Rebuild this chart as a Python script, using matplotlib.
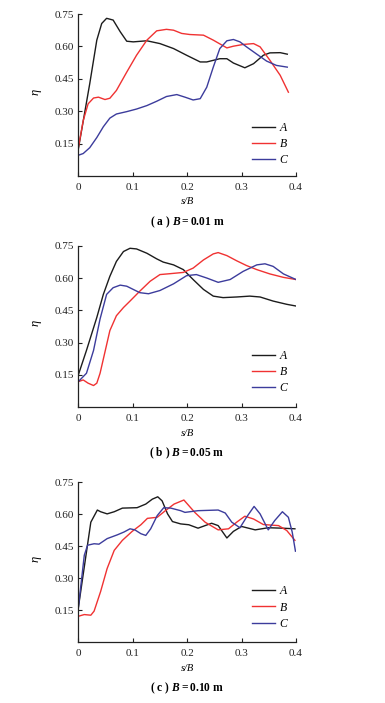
import matplotlib
matplotlib.use("Agg")
import matplotlib.pyplot as plt

plt.rcParams['font.family'] = ['Liberation Serif', 'DejaVu Serif']
plt.rcParams['mathtext.fontset'] = 'custom'
plt.rcParams['mathtext.rm'] = 'Liberation Serif:bold'
plt.rcParams['mathtext.it'] = 'Liberation Serif:italic:bold'
plt.rcParams['mathtext.bf'] = 'Liberation Serif:bold'

# ---------------- data ----------------
# Panel (a) B = 0.01 m
a_A_x = [0.000, 0.021, 0.034, 0.043, 0.052, 0.064, 0.077, 0.089, 0.101, 0.126, 0.150, 0.175, 0.199, 0.224, 0.236, 0.260, 0.273, 0.285, 0.306, 0.322, 0.340, 0.352, 0.371, 0.384]
a_A_y = [0.124, 0.427, 0.629, 0.706, 0.730, 0.722, 0.668, 0.624, 0.621, 0.626, 0.613, 0.590, 0.559, 0.528, 0.528, 0.543, 0.543, 0.523, 0.501, 0.520, 0.559, 0.570, 0.571, 0.564]
a_B_x = [0.000, 0.009, 0.018, 0.028, 0.037, 0.049, 0.058, 0.070, 0.089, 0.107, 0.126, 0.144, 0.162, 0.175, 0.190, 0.205, 0.230, 0.248, 0.273, 0.285, 0.303, 0.322, 0.334, 0.352, 0.371, 0.386]
a_B_y = [0.130, 0.256, 0.334, 0.361, 0.365, 0.354, 0.360, 0.396, 0.481, 0.559, 0.629, 0.672, 0.679, 0.675, 0.660, 0.655, 0.652, 0.629, 0.593, 0.601, 0.609, 0.613, 0.598, 0.536, 0.466, 0.388]
a_C_x = [0.000, 0.009, 0.021, 0.034, 0.046, 0.058, 0.070, 0.089, 0.107, 0.126, 0.144, 0.162, 0.181, 0.196, 0.211, 0.224, 0.236, 0.248, 0.260, 0.273, 0.285, 0.297, 0.309, 0.328, 0.346, 0.364, 0.384]
a_C_y = [0.096, 0.104, 0.131, 0.178, 0.228, 0.268, 0.287, 0.298, 0.310, 0.326, 0.346, 0.368, 0.377, 0.365, 0.352, 0.358, 0.411, 0.504, 0.590, 0.626, 0.632, 0.621, 0.598, 0.564, 0.532, 0.512, 0.504]

# Panel (b) B = 0.05 m
b_A_x = [0.000, 0.015, 0.034, 0.046, 0.058, 0.070, 0.083, 0.095, 0.107, 0.126, 0.144, 0.156, 0.175, 0.193, 0.211, 0.230, 0.248, 0.266, 0.291, 0.315, 0.334, 0.358, 0.383, 0.400]
b_A_y = [0.150, 0.264, 0.417, 0.524, 0.608, 0.677, 0.723, 0.738, 0.735, 0.715, 0.689, 0.674, 0.661, 0.639, 0.593, 0.547, 0.516, 0.509, 0.512, 0.516, 0.512, 0.493, 0.478, 0.470]
b_B_x = [0.000, 0.009, 0.018, 0.028, 0.034, 0.040, 0.049, 0.058, 0.070, 0.083, 0.095, 0.113, 0.132, 0.150, 0.168, 0.193, 0.211, 0.230, 0.248, 0.257, 0.273, 0.291, 0.309, 0.328, 0.352, 0.377, 0.400]
b_B_y = [0.119, 0.127, 0.112, 0.101, 0.112, 0.158, 0.257, 0.356, 0.425, 0.463, 0.493, 0.539, 0.585, 0.616, 0.620, 0.626, 0.646, 0.684, 0.712, 0.718, 0.704, 0.680, 0.658, 0.639, 0.619, 0.603, 0.593]
b_C_x = [0.000, 0.015, 0.028, 0.040, 0.052, 0.064, 0.077, 0.089, 0.101, 0.113, 0.129, 0.150, 0.175, 0.199, 0.217, 0.236, 0.257, 0.279, 0.303, 0.328, 0.343, 0.358, 0.377, 0.400]
b_C_y = [0.119, 0.158, 0.264, 0.410, 0.524, 0.555, 0.567, 0.562, 0.547, 0.532, 0.527, 0.542, 0.573, 0.611, 0.616, 0.600, 0.580, 0.593, 0.631, 0.661, 0.666, 0.654, 0.619, 0.593]

# Panel (c) B = 0.10 m
c_A_x = [0.000, 0.023, 0.035, 0.041, 0.053, 0.066, 0.081, 0.108, 0.124, 0.136, 0.146, 0.154, 0.164, 0.173, 0.188, 0.203, 0.220, 0.245, 0.257, 0.273, 0.285, 0.300, 0.325, 0.349, 0.374, 0.398]
c_A_y = [0.161, 0.563, 0.620, 0.612, 0.602, 0.612, 0.629, 0.631, 0.648, 0.671, 0.682, 0.663, 0.602, 0.566, 0.555, 0.551, 0.535, 0.558, 0.547, 0.489, 0.520, 0.543, 0.527, 0.537, 0.535, 0.532]
c_B_x = [0.000, 0.011, 0.023, 0.029, 0.041, 0.053, 0.066, 0.081, 0.099, 0.115, 0.127, 0.145, 0.160, 0.176, 0.194, 0.214, 0.233, 0.257, 0.276, 0.291, 0.306, 0.322, 0.340, 0.368, 0.383, 0.398]
c_B_y = [0.122, 0.130, 0.127, 0.146, 0.238, 0.346, 0.431, 0.478, 0.520, 0.551, 0.581, 0.586, 0.617, 0.648, 0.667, 0.609, 0.563, 0.527, 0.532, 0.563, 0.591, 0.578, 0.552, 0.547, 0.524, 0.478]
c_C_x = [0.000, 0.011, 0.017, 0.029, 0.038, 0.053, 0.072, 0.084, 0.095, 0.104, 0.115, 0.124, 0.133, 0.145, 0.157, 0.170, 0.188, 0.196, 0.220, 0.257, 0.270, 0.282, 0.297, 0.309, 0.323, 0.334, 0.349, 0.361, 0.375, 0.386, 0.393, 0.399]
c_C_y = [0.160, 0.408, 0.455, 0.462, 0.460, 0.486, 0.504, 0.517, 0.532, 0.527, 0.509, 0.501, 0.532, 0.594, 0.631, 0.629, 0.617, 0.609, 0.617, 0.620, 0.606, 0.563, 0.537, 0.586, 0.637, 0.602, 0.527, 0.571, 0.612, 0.586, 0.517, 0.427]

series_labels = ['A', 'B', 'C']
captions = ['a', 'b', 'c']
B_values = ['0.01', '0.05', '0.10']
x_ticks = [0, 0.1, 0.2, 0.3, 0.4]
x_ticklabels = ['0', '0.1', '0.2', '0.3', '0.4']
y_ticks = [0.15, 0.30, 0.45, 0.60, 0.75]
y_ticklabels = ['0.15', '0.30', '0.45', '0.60', '0.75']

panels = [
    [(a_A_x, a_A_y), (a_B_x, a_B_y), (a_C_x, a_C_y)],
    [(b_A_x, b_A_y), (b_B_x, b_B_y), (b_C_x, b_C_y)],
    [(c_A_x, c_A_y), (c_B_x, c_B_y), (c_C_x, c_C_y)],
]

colors = ['#1c1c1c', '#f03232', '#3c3c9c']

W, H = 385, 703
fig = plt.figure(figsize=(W / 100, H / 100), dpi=100)

# axes rectangles in pixels: (left, top, right, bottom)
rects = [(78.3, 14.0, 296.0, 176.0),
         (78.3, 245.7, 296.0, 407.3),
         (78.3, 482.3, 296.0, 642.3)]
legend_top = [0.335, 0.355, 0.355]

for i, (ax_rect, data) in enumerate(zip(rects, panels)):
    l, t, r, b = ax_rect
    ax = fig.add_axes([l / W, 1 - b / H, (r - l) / W, (b - t) / H])
    for (xs, ys), c, lab in zip(data, colors, series_labels):
        ax.plot(xs, ys, color=c, lw=1.0, label=lab)
    ax.set_xlim(0, 0.4)
    ax.set_ylim(0, 0.75)
    ax.set_xticks(x_ticks)
    ax.set_xticklabels(x_ticklabels)
    ax.set_yticks(y_ticks)
    ax.set_yticklabels(y_ticklabels)
    for s in ['top', 'right']:
        ax.spines[s].set_visible(False)
    for s in ['left', 'bottom']:
        ax.spines[s].set_linewidth(0.9)
        ax.spines[s].set_color('#222222')
    ax.tick_params(direction='in', length=3, width=0.8, colors='#222222',
                   labelsize=8, pad=3)
    ax.tick_params(axis='x', pad=5)
    ax.set_xlabel('s/B', fontsize=7.5, style='italic', labelpad=4)
    ax.set_ylabel('η', fontsize=9, style='italic')
    ax.yaxis.set_label_coords(-0.17, 0.52)
    ax.legend(loc='upper left', bbox_to_anchor=(0.80, legend_top[i]),
              frameon=False, borderpad=0, borderaxespad=0,
              handlelength=1.9, handletextpad=0.4, labelspacing=0.35,
              prop={'family': 'Liberation Serif', 'style': 'italic', 'size': 8.5})
    # caption
    cy = 1 - (b + 46) / H
    cx = (l + r) / 2 / W
    caption = (r'$\mathrm{(\ ' + captions[i] + r'\ )\ }B{=}\mathrm{' + B_values[i]
               + r'\ m}$')
    fig.text(cx, cy, caption, ha='center', va='center', fontsize=8.3)

fig.savefig('out.png', dpi=100)
